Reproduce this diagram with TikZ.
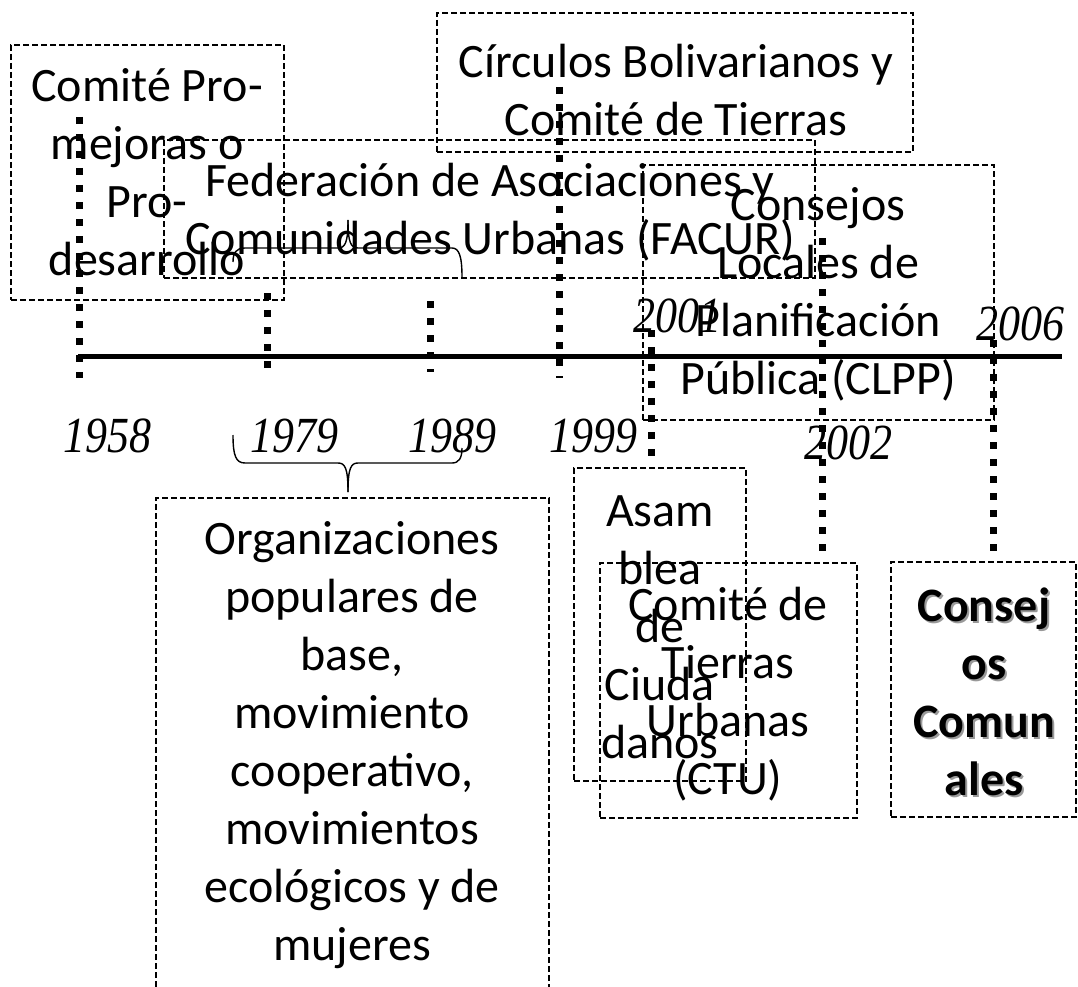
\documentclass[tikz,border=0pt]{standalone}
\usepackage{fontspec}
\setmainfont{Carlito}
\newfontfamily\yearfont{Liberation Serif}
\newcommand{\yrtext}[1]{\scalebox{1}[1.15]{#1}}
\begin{document}
\begin{tikzpicture}[x=1pt,y=-1pt,
  dbox/.style={draw, dash pattern=on 6pt off 3pt, line width=1.2pt, inner sep=0pt},
  txt/.style={align=center, inner sep=0pt, font=\fontsize{48}{58}\selectfont},
  btxt/.style={align=center, inner sep=0pt, font=\fontsize{48}{58}\selectfont\bfseries},
  yr/.style={inner sep=0pt, anchor=base, font=\fontsize{44}{50}\yearfont\itshape},
  tick/.style={line width=7pt, dash pattern=on 7pt off 10pt},
  brace/.style={line width=1.4pt}]
\useasboundingbox (0,0) rectangle (1078,987);

% timeline
\coordinate (tlA) at (78,356);
\coordinate (tlB) at (1062,356);
\draw[line width=5pt] (tlA) -- (tlB);

% ticks
\coordinate (a1) at (79,117);  \coordinate (b1) at (79,378);
\coordinate (a2) at (267,293); \coordinate (b2) at (267,378);
\coordinate (a3) at (430,301); \coordinate (b3) at (430,372);
\coordinate (a4) at (559,87);  \coordinate (b4) at (559,378);
\coordinate (a5) at (651,330); \coordinate (b5) at (651,465);
\coordinate (a6) at (822,238); \coordinate (b6) at (822,560);
\coordinate (a7) at (993,340); \coordinate (b7) at (993,555);
\foreach \i in {1,...,7} \draw[tick] (a\i) -- (b\i);

% boxes
\node[dbox, minimum width=273pt, minimum height=255pt] (comite) at (147.5,172.5) {};
\node[dbox, minimum width=476pt, minimum height=139pt] (circ) at (675,82.5) {};
\node[dbox, minimum width=651pt, minimum height=138pt] (facur) at (489.5,209) {};
\node[dbox, minimum width=351pt, minimum height=255pt] (clpp) at (818.5,292.5) {};
\node[dbox, minimum width=172pt, minimum height=313pt] (asam) at (660,624.5) {};
\node[dbox, minimum width=257pt, minimum height=255pt] (ctu) at (728.5,690.5) {};
\node[dbox, minimum width=185pt, minimum height=255pt] (cc) at (983.5,689.5) {};
\coordinate (orgA) at (156,987);
\coordinate (orgB) at (156,498);
\coordinate (orgC) at (549,498);
\coordinate (orgD) at (549,987);
\draw[dash pattern=on 6pt off 3pt, line width=1.2pt] (orgA) -- (orgB) -- (orgC) -- (orgD);

% texts
\node[txt] (tcomite) at (147,172) {Comité Pro-\\mejoras o\\Pro-\\desarrollo};
\node[txt] (tcirc) at (676,90) {Círculos Bolivarianos y\\Comité de Tierras};
\node[txt] (tfacur) at (490,212) {Federación de Asociaciones y\\Comunidades Urbanas (FACUR)};
\node[txt] (tclpp) at (818,294) {Consejos\\Locales de\\Planificación\\Pública (CLPP)};
\node[txt] (tasam) at (660,627) {Asam\\blea\\de\\Ciuda\\danos};
\node[txt] (tctu) at (728,694) {Comité de\\Tierras\\Urbanas\\(CTU)};
\node[btxt, text=black!40] (tccs) at (986,694) {Consej\\os\\Comun\\ales};
\node[btxt] (tcc) at (984,692) {Consej\\os\\Comun\\ales};
\node[txt] (torg) at (352,745) {Organizaciones\\populares de\\base,\\movimiento\\cooperativo,\\movimientos\\ecológicos y de\\mujeres};

% years
\node[yr] (y1958) at (107,452) {\yrtext{1958}};
\node[yr] (y1979) at (294,452) {\yrtext{1979}};
\node[yr] (y1989) at (452,452) {\yrtext{1989}};
\node[yr] (y1999) at (593,452) {\yrtext{1999}};
\node[yr] (y2001) at (677,332) {\yrtext{2001}};
\node[yr] (y2006) at (1020,340) {\yrtext{2006}};
\node[yr] (y2002) at (848,459) {\yrtext{2002}};

% lower brace
\coordinate (lbL) at (233,435);
\coordinate (lbT) at (348,492);
\coordinate (lbR) at (462,448);
\draw[brace] (lbL) .. controls (233,456) and (236,463) .. (245,463) -- (338,463)
  .. controls (345,463) and (348,468) .. (lbT);
\draw[brace] (lbT) .. controls (348,468) and (351,463) .. (358,463) -- (452,463)
  .. controls (459,463) and (462,458) .. (lbR);

% upper brace
\coordinate (ubL) at (233,262);
\coordinate (ubT) at (348,220);
\coordinate (ubR) at (462,277);
\draw[brace] (ubL) .. controls (233,253) and (236,248) .. (245,248) -- (338,248)
  .. controls (345,248) and (348,243) .. (ubT);
\draw[brace] (ubT) .. controls (348,243) and (351,248) .. (358,248) -- (452,248)
  .. controls (459,248) and (462,256) .. (ubR);
\end{tikzpicture}
\end{document}
